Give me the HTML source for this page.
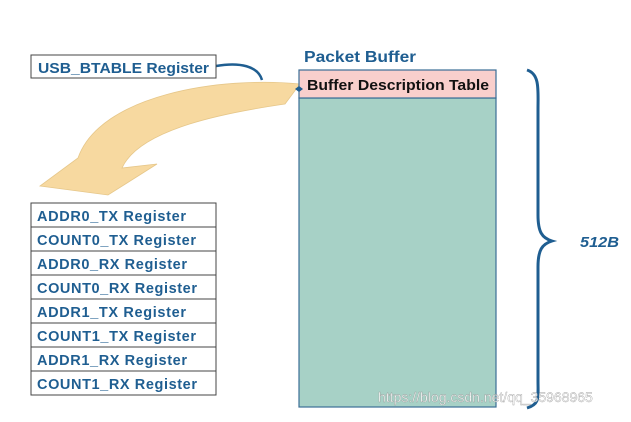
<!DOCTYPE html>
<html><head><meta charset="utf-8"><style>
body{margin:0;background:#fff;}
.t{font-family:"Liberation Sans",sans-serif;font-weight:bold;}
</style></head><body>
<svg width="631" height="417" xmlns="http://www.w3.org/2000/svg">
<path d="M300,84 C220,76 100,95 78,158 L40,186 L108,195 L157,164 L122,168 C140,128 230,112 285,104 Z" fill="#f7d9a0" stroke="#e6c78a" stroke-width="0.8"/>
<path d="M216,66 C240,62 258,66 262,80" fill="none" stroke="#1f5e91" stroke-width="2.5"/>
<rect x="31" y="55" width="185" height="23" fill="#fff" stroke="#444" stroke-width="1"/>
<text x="38" y="73" class="t" font-size="14.5" fill="#1f5e91" textLength="171" lengthAdjust="spacingAndGlyphs">USB_BTABLE Register</text>
<g fill="#fff" stroke="#444" stroke-width="1">
<rect x="31" y="203" width="185" height="24"/><rect x="31" y="227" width="185" height="24"/>
<rect x="31" y="251" width="185" height="24"/><rect x="31" y="275" width="185" height="24"/>
<rect x="31" y="299" width="185" height="24"/><rect x="31" y="323" width="185" height="24"/>
<rect x="31" y="347" width="185" height="24"/><rect x="31" y="371" width="185" height="24"/>
</g>
<g class="t" font-size="14.5" fill="#1f5e91" lengthAdjust="spacingAndGlyphs">
<text x="37" y="221" textLength="149">ADDR0_TX Register</text>
<text x="37" y="245" textLength="159">COUNT0_TX Register</text>
<text x="37" y="269" textLength="150">ADDR0_RX Register</text>
<text x="37" y="293" textLength="160">COUNT0_RX Register</text>
<text x="37" y="317" textLength="149">ADDR1_TX Register</text>
<text x="37" y="341" textLength="159">COUNT1_TX Register</text>
<text x="37" y="365" textLength="150">ADDR1_RX Register</text>
<text x="37" y="389" textLength="160">COUNT1_RX Register</text>
</g>
<text x="304" y="62" class="t" font-size="16" fill="#1f5e91" textLength="112" lengthAdjust="spacingAndGlyphs">Packet Buffer</text>
<rect x="299" y="98" width="197" height="309" fill="#a7d1c6" stroke="#3b6e96" stroke-width="1.2"/>
<rect x="299" y="70" width="197" height="28" fill="#f9cfcc" stroke="#3b6e96" stroke-width="1.2"/>
<text x="307" y="90" class="t" font-size="14.5" fill="#111" textLength="182" lengthAdjust="spacingAndGlyphs">Buffer Description Table</text>
<path d="M295,89 l4,-3 l4,3 l-4,3z" fill="#1f5e91"/>
<path d="M527,70 C540,74 538,90 538,110 L538,215 C538,232 542,238 552,241 C542,244 538,250 538,267 L538,380 C538,398 540,404 527,408" fill="none" stroke="#1f5e91" stroke-width="3"/>
<text x="580" y="247" class="t" font-size="15" font-style="italic" fill="#1f5e91" textLength="39" lengthAdjust="spacingAndGlyphs">512B</text>
<text x="378" y="402" font-family="Liberation Sans,sans-serif" font-size="14" fill="#fff" stroke="#999" stroke-width="0.4" opacity="0.9">https://blog.csdn.net/qq_35968965</text>
</svg>
</body></html>
